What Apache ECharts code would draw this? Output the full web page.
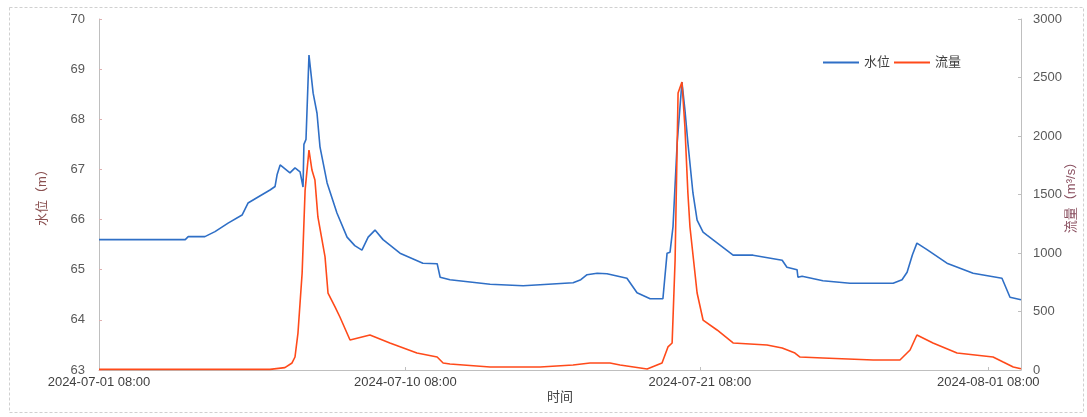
<!DOCTYPE html>
<html>
<head>
<meta charset="utf-8">
<script src="https://cdn.jsdelivr.net/npm/echarts@6/dist/echarts.min.js"></script>
<style>
html,body{margin:0;padding:0;background:#fff;}
#chart{width:1087px;height:417px;}
</style>
</head>
<body>
<div id="chart"></div>
<script>
// x = sample number (records are not evenly spaced in time)
const sampleCount = 310;
const tickSamples = [0, 103, 202, 299];
const tickLabels = ['2024-07-01 08:00', '2024-07-10 08:00', '2024-07-21 08:00', '2024-08-01 08:00'];

// 水位 (m)
const levelSamples = [0, 25.6, 29, 30, 35.6, 39, 43.4, 48.1, 50.1, 53.5, 57.5, 59.2, 59.9, 60.9, 64.2, 65.9, 67.6, 68.6, 68.9, 69.6, 70.6, 72, 73.3, 74.3, 76.7, 80, 83.4, 86, 88.4, 90.5, 92.8, 95.5, 101.2, 108.9, 113.7, 114.7, 118, 131.5, 142.6, 148.3, 159.4, 162, 164.1, 167.5, 170.8, 177.5, 180.9, 185.3, 189.6, 191, 192, 193, 194.4, 196, 197, 198, 199.7, 201.1, 203.1, 204.4, 213.2, 219.9, 229.7, 231.3, 234.7, 235, 236.4, 243.4, 252.5, 267, 270, 271.7, 273.5, 275, 278.4, 285.1, 293.9, 303.6, 306.3, 310];
const levelValues  = [65.6, 65.6, 65.6, 65.66, 65.66, 65.76, 65.93, 66.09, 66.33, 66.45, 66.59, 66.66, 66.9, 67.09, 66.93, 67.03, 66.95, 66.65, 67.5, 67.6, 69.28, 68.52, 68.12, 67.45, 66.73, 66.13, 65.65, 65.48, 65.39, 65.65, 65.79, 65.6, 65.33, 65.13, 65.12, 64.85, 64.8, 64.71, 64.68, 64.7, 64.74, 64.8, 64.9, 64.93, 64.92, 64.83, 64.54, 64.42, 64.42, 65.33, 65.35, 65.86, 67.53, 68.74, 68.19, 67.53, 66.53, 65.99, 65.75, 65.69, 65.29, 65.29, 65.19, 65.05, 65.0, 64.85, 64.87, 64.78, 64.73, 64.73, 64.8, 64.95, 65.3, 65.53, 65.4, 65.13, 64.93, 64.83, 64.45, 64.4];

// 流量 (m³/s)
const flowSamples = [0, 57.5, 62.5, 64.9, 65.9, 66.9, 68.3, 69.3, 70.6, 71.6, 72.6, 73.6, 76, 77, 79.4, 81, 84.4, 91.1, 97.8, 106.9, 113.7, 115.7, 118, 131.5, 148.3, 159.4, 165.1, 171.8, 175.2, 184.3, 189.3, 191.3, 192.7, 193.7, 194.7, 196, 197, 198, 198.7, 201.1, 203.1, 207.8, 213.2, 224.6, 229.7, 234, 235.7, 243.4, 260.3, 269.3, 272.7, 275, 280.4, 288.5, 300.6, 304, 307.4, 310];
const flowValues  = [5, 5, 20, 60, 111, 316, 829, 1538, 1880, 1709, 1624, 1308, 966, 658, 538, 453, 256, 299, 231, 145, 111, 60, 51, 26, 26, 43, 60, 60, 43, 9, 60, 197, 231, 940, 2368, 2462, 2077, 1513, 1222, 658, 427, 342, 231, 214, 188, 145, 111, 103, 85, 85, 171, 299, 231, 145, 111, 68, 26, 10];

const levelData = levelSamples.map((s, i) => [s, levelValues[i]]);
const flowData = flowSamples.map((s, i) => [s, flowValues[i]]);

const chart = echarts.init(document.getElementById('chart'), null, {renderer: 'canvas'});
const font = 'Arial, "Liberation Sans", "Noto Sans CJK SC", sans-serif';
chart.setOption({
  animation: false,
  backgroundColor: '#ffffff',
  textStyle: {fontFamily: font},
  graphic: [{
    type: 'rect', left: 7, top: 5, z: -1,
    shape: {width: 1074, height: 405},
    style: {fill: 'none', stroke: '#d0d0d0', lineWidth: 1, lineDash: [3, 2]}
  }],
  legend: {
    left: 818, top: 51,
    icon: 'rect',
    itemWidth: 36, itemHeight: 2, itemGap: 4,
    textStyle: {fontSize: 13, color: '#404040', fontFamily: font},
    data: ['水位', '流量']
  },
  grid: {left: 99, right: 66, top: 19, bottom: 47, outerBoundsMode: 'none', containLabel: false},
  xAxis: {
    type: 'value', min: 0, max: sampleCount,
    name: '时间', nameLocation: 'middle', nameGap: 21, nameMoveOverlap: false,
    nameTextStyle: {fontSize: 13, color: '#404040'},
    axisLine: {lineStyle: {color: '#bfbfbf'}},
    axisTick: {show: true, customValues: tickSamples, length: 3, inside: true, lineStyle: {color: '#bfbfbf'}},
    splitLine: {show: false},
    axisLabel: {
      customValues: tickSamples, fontSize: 13, color: '#404040', margin: 6,
      formatter: v => tickLabels[tickSamples.indexOf(Math.round(v))] || ''
    }
  },
  yAxis: [{
    type: 'value', min: 63, max: 70, interval: 1,
    name: '水位（m）', nameLocation: 'middle', nameGap: 50, nameRotate: 90, nameMoveOverlap: false,
    nameTextStyle: {fontSize: 13, color: '#8a5050'},
    axisLine: {show: true, lineStyle: {color: '#bfbfbf'}},
    axisTick: {show: true, inside: true, length: 3, lineStyle: {color: '#e0b0b0'}},
    splitLine: {show: false},
    axisLabel: {fontSize: 13, color: '#595959', margin: 14}
  }, {
    type: 'value', min: 0, max: 3000, interval: 500, position: 'right',
    name: '流量（m³/s）', nameLocation: 'middle', nameGap: 44, nameRotate: 90, nameMoveOverlap: false,
    nameTextStyle: {fontSize: 13, color: '#8a5060'},
    axisLine: {show: true, lineStyle: {color: '#bfbfbf'}},
    axisTick: {show: true, inside: true, length: 3, lineStyle: {color: '#bfbfbf'}},
    splitLine: {show: false},
    axisLabel: {fontSize: 13, color: '#595959', margin: 12, formatter: v => String(v)}
  }],
  series: [{
    name: '水位', type: 'line', yAxisIndex: 0, symbol: 'none',
    data: levelData,
    lineStyle: {color: '#2f6fc6', width: 1.6},
    itemStyle: {color: '#2f6fc6'}
  }, {
    name: '流量', type: 'line', yAxisIndex: 1, symbol: 'none',
    data: flowData,
    lineStyle: {color: '#ff4a1a', width: 1.6},
    itemStyle: {color: '#ff4a1a'}
  }]
});
</script>
</body>
</html>
